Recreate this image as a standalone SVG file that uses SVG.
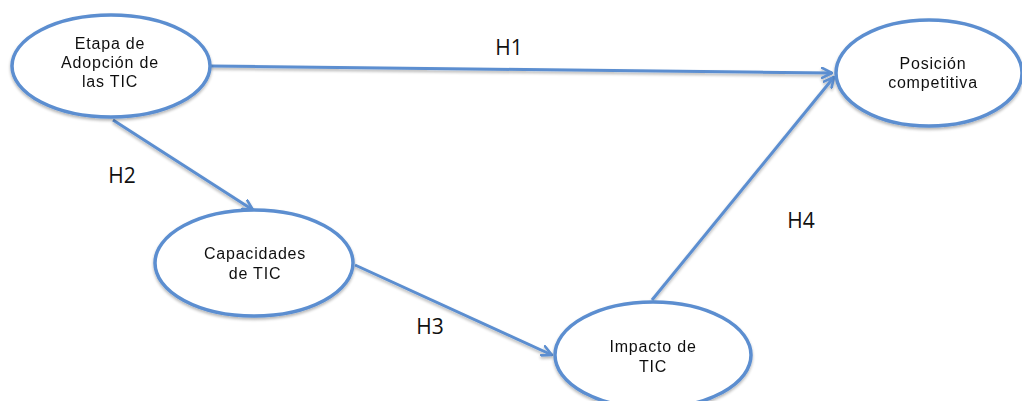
<svg xmlns="http://www.w3.org/2000/svg" width="1022" height="401" viewBox="0 0 1022 401">
<defs>
<marker id="arr" viewBox="0 0 12 12" refX="11" refY="6" markerWidth="12" markerHeight="12" markerUnits="userSpaceOnUse" orient="auto">
<path d="M1,1 L11,6 L1,11" fill="none" stroke="#5b8ed0" stroke-width="2.6" stroke-linecap="round" stroke-linejoin="round"/>
</marker>
<filter id="sh" x="-10%" y="-10%" width="120%" height="130%">
<feGaussianBlur in="SourceAlpha" stdDeviation="1.5"/>
<feOffset dx="0" dy="2" result="b"/>
<feComponentTransfer><feFuncA type="linear" slope="0.3"/></feComponentTransfer>
<feMerge><feMergeNode/><feMergeNode in="SourceGraphic"/></feMerge>
</filter>
</defs>
<style>
.node ellipse{fill:#fff;stroke:#5b8ed0;stroke-width:3.5}
.lbl{font-family:"Liberation Sans",Arial,sans-serif;font-size:16px;letter-spacing:0.8px;fill:#111;text-anchor:middle}
.h{font-family:"Open Sans","Liberation Sans",sans-serif;font-size:21px;fill:#111;text-anchor:middle}
.con line{stroke:#5b8ed0;stroke-width:3;marker-end:url(#arr)}
</style>
<rect width="1022" height="401" fill="#fff"/>
<g id="connectors" class="con" filter="url(#sh)">
<line x1="210" y1="66" x2="832" y2="73"/>
<line x1="113" y1="120" x2="253" y2="210"/>
<line x1="355" y1="265" x2="552" y2="355"/>
<line x1="652" y1="300" x2="834" y2="77"/>
</g>
<g id="n1" class="node" filter="url(#sh)">
<ellipse cx="111" cy="66" rx="99" ry="51"/>
<text class="lbl" x="110" y="49">Etapa de</text>
<text class="lbl" x="110" y="68">Adopción de</text>
<text class="lbl" x="110" y="87">las TIC</text>
</g>
<g id="n2" class="node" filter="url(#sh)">
<ellipse cx="929" cy="73" rx="93" ry="53"/>
<text class="lbl" x="933" y="69">Posición</text>
<text class="lbl" x="933" y="88">competitiva</text>
</g>
<g id="n3" class="node" filter="url(#sh)">
<ellipse cx="254" cy="263" rx="99" ry="53"/>
<text class="lbl" x="255" y="259">Capacidades</text>
<text class="lbl" x="255" y="279">de TIC</text>
</g>
<g id="n4" class="node" filter="url(#sh)">
<ellipse cx="653" cy="355" rx="98" ry="53"/>
<text class="lbl" x="653" y="352">Impacto de</text>
<text class="lbl" x="653" y="372">TIC</text>
</g>
<g id="labels">
<text class="h" x="509" y="55">H1</text>
<text class="h" x="122" y="183">H2</text>
<text class="h" x="430" y="334">H3</text>
<text class="h" x="801" y="228">H4</text>
</g>
</svg>
